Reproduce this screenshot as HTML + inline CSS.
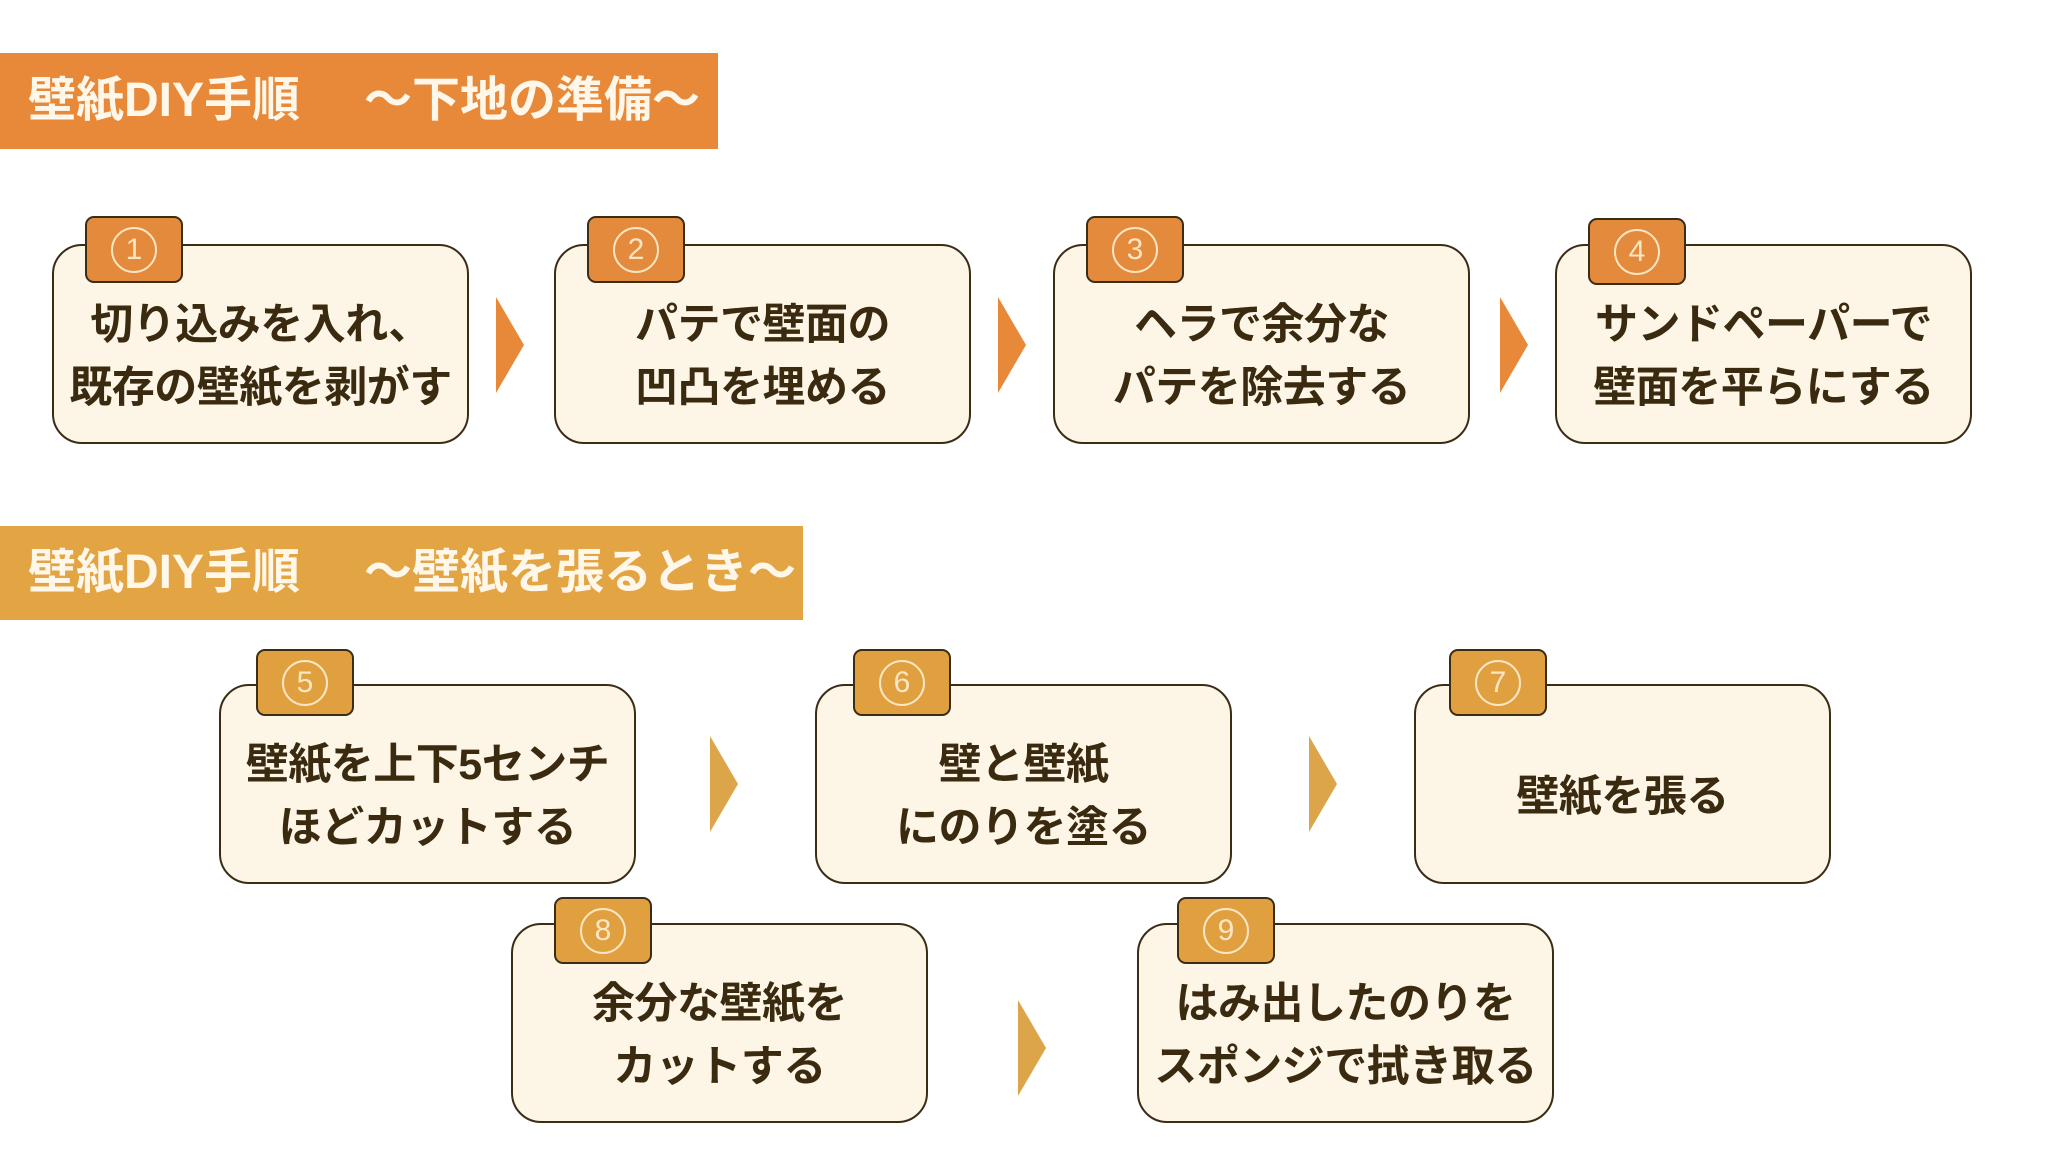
<!DOCTYPE html>
<html><head><meta charset="utf-8"><style>
html,body{margin:0;padding:0;background:#fff;}
body{width:2048px;height:1152px;position:relative;overflow:hidden;font-family:"Liberation Sans","Noto Sans CJK JP",sans-serif;}
.ban{position:absolute;left:0;color:#fff8ea;font-weight:bold;font-size:48px;line-height:96px;padding-left:28px;box-sizing:border-box;white-space:pre;}
.ban i{font-style:normal;display:inline-block;width:64px;}
.box{position:absolute;width:417px;height:200px;background:#fdf5e6;border:2.5px solid #3b2c16;border-radius:30px;box-sizing:border-box;display:flex;align-items:center;justify-content:center;text-align:center;color:#3a2a10;font-weight:bold;font-size:43px;line-height:63px;padding-top:26px;white-space:nowrap;letter-spacing:-0.5px;}
.tab{position:absolute;width:98px;height:67px;border:2.5px solid #3b2c16;border-radius:9px;box-sizing:border-box;display:flex;align-items:center;justify-content:center;}
.tab span{width:46px;height:46px;border:2px solid #fbe6c4;border-radius:50%;box-sizing:border-box;color:#fbe6c4;font-size:30px;line-height:42px;text-align:center;font-weight:normal;}
.o{background:#e48a3c;}
.y{background:#e0a040;}
.arr{position:absolute;width:0;height:0;border-top:48px solid transparent;border-bottom:48px solid transparent;}
.ao{border-left:28px solid #e8893a;}
.ay{border-left:28px solid #dca54a;}
</style></head><body>
<div class="ban" style="top:53px;width:718px;height:96px;background:#e8893a;">壁紙DIY手順<i></i>～下地の準備～</div>
<div class="ban" style="top:526px;width:803px;height:94px;background:#e3a444;line-height:94px;">壁紙DIY手順<i></i>～壁紙を張るとき～</div>

<div class="box" style="left:52px;top:244px;">切り込みを入れ、<br>既存の壁紙を剥がす</div>
<div class="tab o" style="left:85px;top:216px;"><span>1</span></div>
<div class="arr ao" style="left:496px;top:297px;"></div>
<div class="box" style="left:554px;top:244px;">パテで壁面の<br>凹凸を埋める</div>
<div class="tab o" style="left:587px;top:216px;"><span>2</span></div>
<div class="arr ao" style="left:998px;top:297px;"></div>
<div class="box" style="left:1053px;top:244px;">ヘラで余分な<br>パテを除去する</div>
<div class="tab o" style="left:1086px;top:216px;"><span>3</span></div>
<div class="arr ao" style="left:1500px;top:297px;"></div>
<div class="box" style="left:1555px;top:244px;">サンドペーパーで<br>壁面を平らにする</div>
<div class="tab o" style="left:1588px;top:218px;"><span>4</span></div>

<div class="box" style="left:219px;top:684px;">壁紙を上下5センチ<br>ほどカットする</div>
<div class="tab y" style="left:256px;top:649px;"><span>5</span></div>
<div class="arr ay" style="left:710px;top:736px;"></div>
<div class="box" style="left:815px;top:684px;">壁と壁紙<br>にのりを塗る</div>
<div class="tab y" style="left:853px;top:649px;"><span>6</span></div>
<div class="arr ay" style="left:1309px;top:736px;"></div>
<div class="box" style="left:1414px;top:684px;">壁紙を張る</div>
<div class="tab y" style="left:1449px;top:649px;"><span>7</span></div>

<div class="box" style="left:511px;top:923px;">余分な壁紙を<br>カットする</div>
<div class="tab y" style="left:554px;top:897px;"><span>8</span></div>
<div class="arr ay" style="left:1018px;top:1000px;"></div>
<div class="box" style="left:1137px;top:923px;">はみ出したのりを<br>スポンジで拭き取る</div>
<div class="tab y" style="left:1177px;top:897px;"><span>9</span></div>
</body></html>
